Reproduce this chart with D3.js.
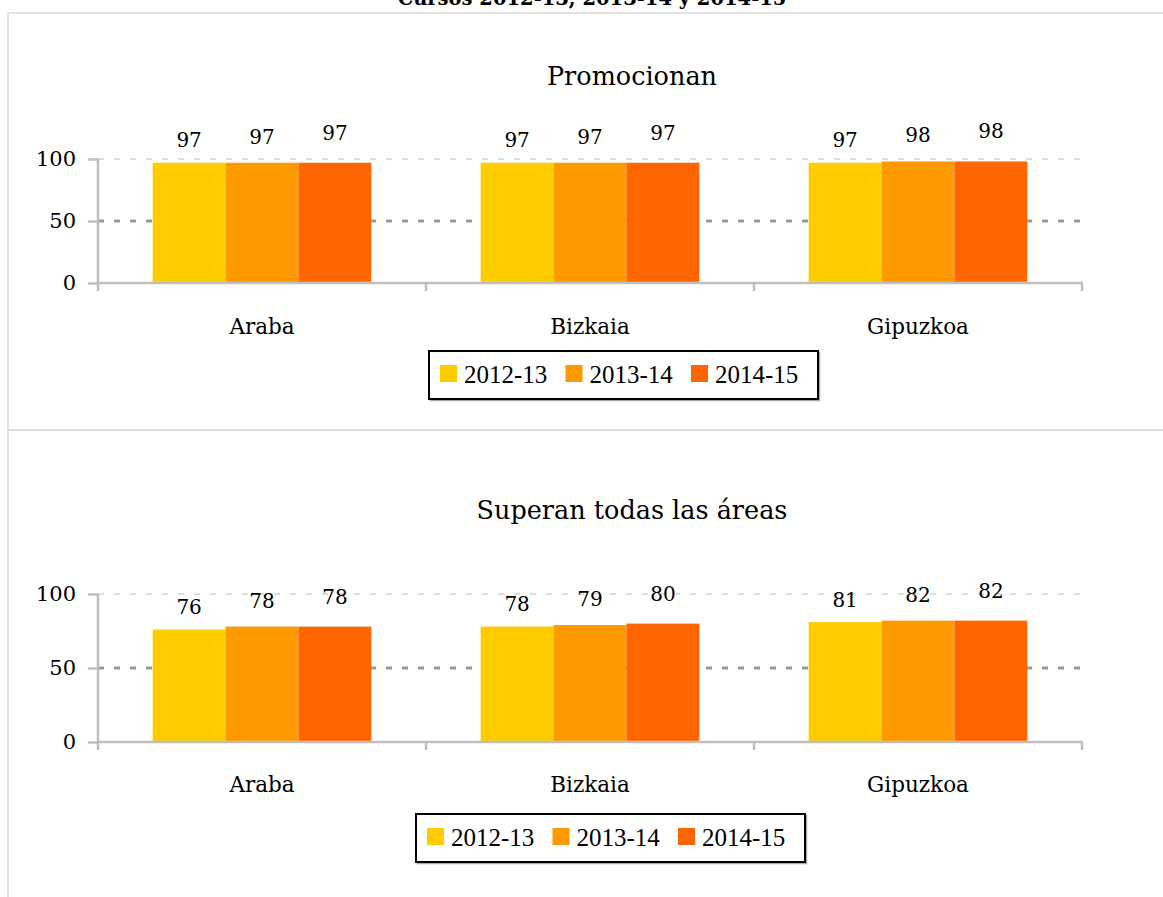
<!DOCTYPE html>
<html>
<head>
<meta charset="utf-8">
<script src="https://cdn.jsdelivr.net/npm/d3@7"></script>
<style>
  html, body { margin: 0; padding: 0; background: #fff; }
  svg { display: block; }
</style>
</head>
<body>
<svg id="chart" width="1163" height="897"></svg>
<script>
// ---- Data ----
const mainTitle = "Cursos 2012-13, 2013-14 y 2014-15";
const categories = ["Araba", "Bizkaia", "Gipuzkoa"];
const seriesNames = ["2012-13", "2013-14", "2014-15"];
const yTicks = [0, 50, 100];

const promocionanTitle = "Promocionan";
const promocionan_2012_13 = [97, 97, 97];
const promocionan_2013_14 = [97, 97, 98];
const promocionan_2014_15 = [97, 97, 98];

const superanTitle = "Superan todas las áreas";
const superan_2012_13 = [76, 78, 81];
const superan_2013_14 = [78, 79, 82];
const superan_2014_15 = [78, 80, 82];

const colors = ["#FFCC00", "#FF9900", "#FF6600"];

// ---- Layout ----
const serif = "'DejaVu Serif', serif";
const legendFont = "'Liberation Serif', 'Times New Roman', serif";
const labelGap = [22.5, 26, 30];

const svg = d3.select("#chart");

// frames
svg.append("rect").attr("x", 8).attr("y", 13).attr("width", 1200).attr("height", 417)
  .attr("fill", "none").attr("stroke", "#d9d9d9").attr("stroke-width", 1.5);
svg.append("rect").attr("x", 8).attr("y", 430).attr("width", 1200).attr("height", 500)
  .attr("fill", "none").attr("stroke", "#d9d9d9").attr("stroke-width", 1.5);

// main title (mostly cut off at top, as in the reference)
svg.append("text").attr("x", 592).attr("y", 5)
  .attr("text-anchor", "middle")
  .attr("font-family", serif).attr("font-weight", "bold").attr("font-size", 19.5)
  .text(mainTitle);

const x0 = d3.scaleBand().domain(categories).range([98, 1082]).padding(0);
const bw = x0.bandwidth();
const x1 = d3.scaleBand().domain(seriesNames)
  .range([bw * 0.75 / 4.5, bw * 3.75 / 4.5]).padding(0);

function drawPanel(cfg) {
  const g = svg.append("g");
  const y = d3.scaleLinear().domain([0, 100]).range([cfg.y0, cfg.y100]);

  // title
  g.append("text").attr("x", 632).attr("y", cfg.titleY)
    .attr("text-anchor", "middle").attr("dominant-baseline", "central")
    .attr("font-family", serif).attr("font-size", 25.5).attr("fill", "#000")
    .text(cfg.title);

  // gridlines
  g.append("line").attr("x1", 98).attr("x2", 1083)
    .attr("y1", y(100)).attr("y2", y(100))
    .attr("stroke", "#d4d4d4").attr("stroke-width", 1.5).attr("stroke-dasharray", "6 10");
  g.append("line").attr("x1", 98).attr("x2", 1083)
    .attr("y1", y(50)).attr("y2", y(50))
    .attr("stroke", "#999").attr("stroke-width", 3).attr("stroke-dasharray", "6 10");

  // bars
  const data = [];
  cfg.series.forEach((vals, si) => {
    vals.forEach((v, ci) => data.push({ cat: categories[ci], s: seriesNames[si], si, v }));
  });
  g.selectAll("rect.bar").data(data).join("rect").attr("class", "bar")
    .attr("x", d => x0(d.cat) + x1(d.s))
    .attr("width", x1.bandwidth())
    .attr("y", d => y(d.v))
    .attr("height", d => y(0) - y(d.v))
    .attr("fill", d => colors[d.si]);

  // value labels
  g.selectAll("text.val").data(data).join("text").attr("class", "val")
    .attr("x", d => x0(d.cat) + x1(d.s) + x1.bandwidth() / 2)
    .attr("y", d => y(d.v) - labelGap[d.si])
    .attr("text-anchor", "middle").attr("dominant-baseline", "central")
    .attr("font-family", serif).attr("font-size", 20).attr("fill", "#000")
    .text(d => d.v);

  // y axis
  const yAxis = d3.axisLeft(y).tickValues(yTicks).tickSize(10).tickPadding(12).tickFormat(d3.format("d"));
  const ya = g.append("g").attr("transform", "translate(98,0)").call(yAxis);
  ya.select(".domain").remove();
  ya.selectAll(".tick line").attr("stroke", "#bfbfbf").attr("stroke-width", 2.5);
  ya.selectAll(".tick text").attr("font-family", serif).attr("font-size", 21).attr("fill", "#000");
  g.append("line").attr("x1", 98).attr("x2", 98).attr("y1", y(100)).attr("y2", y(0) + 8)
    .attr("stroke", "#bfbfbf").attr("stroke-width", 2.5);

  // x axis
  g.append("line").attr("x1", 98).attr("x2", 1083).attr("y1", y(0)).attr("y2", y(0))
    .attr("stroke", "#bfbfbf").attr("stroke-width", 2.5);
  const bounds = categories.map(c => x0(c)).concat([x0(categories[categories.length - 1]) + bw]);
  g.selectAll("line.ctick").data(bounds.slice(1)).join("line").attr("class", "ctick")
    .attr("x1", d => d).attr("x2", d => d).attr("y1", y(0)).attr("y2", y(0) + 8)
    .attr("stroke", "#bfbfbf").attr("stroke-width", 2.5);
  g.selectAll("text.cat").data(categories).join("text").attr("class", "cat")
    .attr("x", d => x0(d) + bw / 2).attr("y", cfg.catY)
    .attr("text-anchor", "middle").attr("dominant-baseline", "central")
    .attr("font-family", serif).attr("font-size", 21.5).attr("fill", "#000")
    .text(d => d);

  // legend
  const lg = g.append("g").attr("transform", `translate(${cfg.legendX},${cfg.legendY})`);
  lg.append("rect").attr("x", 1.5).attr("y", 1.5).attr("width", 389).attr("height", 48)
    .attr("fill", "none").attr("stroke", "#aaa").attr("stroke-width", 1.5);
  lg.append("rect").attr("x", 0).attr("y", 0).attr("width", 389).attr("height", 48)
    .attr("fill", "#fff").attr("stroke", "#000").attr("stroke-width", 2);
  seriesNames.forEach((s, i) => {
    const ix = 11 + i * 125.5;
    lg.append("rect").attr("x", ix).attr("y", 14).attr("width", 17).attr("height", 17)
      .attr("fill", colors[i]);
    lg.append("text").attr("x", ix + 24).attr("y", 23)
      .attr("dominant-baseline", "central")
      .attr("font-family", legendFont).attr("font-size", 25).attr("fill", "#000")
      .text(s);
  });
}

drawPanel({
  title: promocionanTitle, titleY: 76,
  y0: 283, y100: 159, catY: 326,
  series: [promocionan_2012_13, promocionan_2013_14, promocionan_2014_15],
  legendX: 429, legendY: 351
});
drawPanel({
  title: superanTitle, titleY: 510,
  y0: 742, y100: 594, catY: 784,
  series: [superan_2012_13, superan_2013_14, superan_2014_15],
  legendX: 416, legendY: 814
});
</script>
</body>
</html>
